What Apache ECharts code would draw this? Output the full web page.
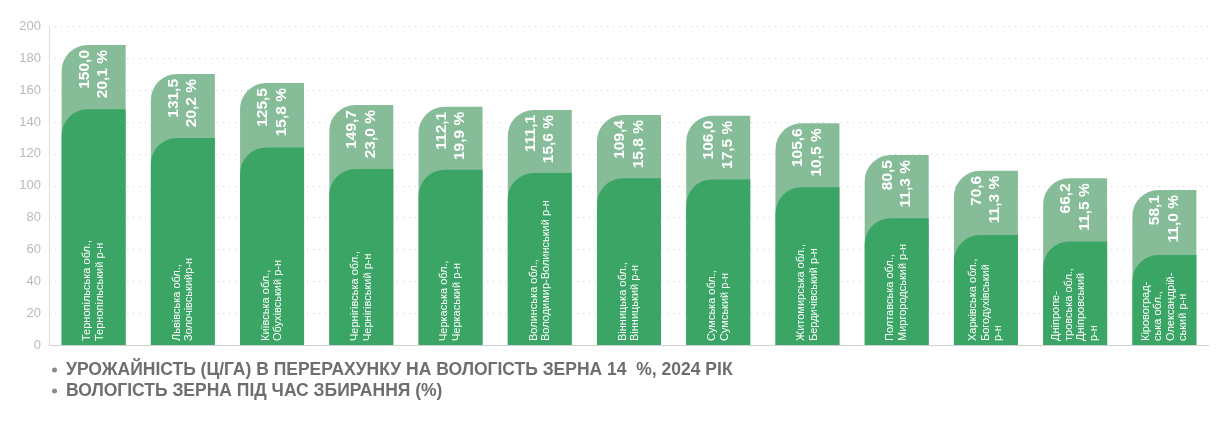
<!DOCTYPE html>
<html>
<head>
<meta charset="utf-8">
<script src="https://cdn.jsdelivr.net/npm/echarts@6/dist/echarts.min.js"></script>
<style>
    html, body { margin: 0; padding: 0; background: #fff; }
    #chart { width: 1216px; height: 422px; }
</style>
</head>
<body>
<div id="chart"></div>
<script>
// райони
var categories = [
    'Тернопільська обл.,\nТернопільський р-н',
    'Львівська обл.,\nЗолочівськийр-н',
    'Київська обл.,\nОбухівський р-н',
    'Чернігівська обл.,\nЧернігівський р-н',
    'Черкаська обл.,\nЧеркаський р-н',
    'Волинська обл.,\nВолодимир-Волинський р-н',
    'Вінницька обл.,\nВінницький р-н',
    'Сумська обл.,\nСумський р-н',
    'Житомирська обл.,\nБердичівський р-н',
    'Полтавська обл.,\nМиргородський р-н',
    'Харківська обл.,\nБогодухівський\nр-н',
    'Дніпропе-\nтровська обл.,\nДніпровський\nр-н',
    'Кіровоград-\nська обл.,\nОлександрій-\nський р-н'
];
// підписи значень
var yieldLabels = ['150,0', '131,5', '125,5', '149,7', '112,1', '111,1', '109,4', '106,0', '105,6', '80,5', '70,6', '66,2', '58,1'];
var moistureLabels = ['20,1', '20,2', '15,8', '23,0', '19,9', '15,6', '15,8', '17,5', '10,5', '11,3', '11,3', '11,5', '11,0'];
// висота темних стовпців (як на малюнку)
var yieldBars = [148, 130, 124, 110.5, 110, 108, 104.7, 104, 99, 79.6, 69, 65, 56.5];
// верх світлих стовпців
var capTops = [188.4, 170.2, 164.5, 150.7, 149.6, 147.6, 144.4, 144, 139.2, 119.3, 109.4, 104.7, 97.3];
var yTicks = [0, 20, 40, 60, 80, 100, 120, 140, 160, 180, 200];

var nameYield = 'УРОЖАЙНІСТЬ (Ц/ГА) В ПЕРЕРАХУНКУ НА ВОЛОГІСТЬ ЗЕРНА 14  %, 2024 РІК';
var nameMoisture = 'ВОЛОГІСТЬ ЗЕРНА ПІД ЧАС ЗБИРАННЯ (%)';

var chart = echarts.init(document.getElementById('chart'));

var option = {
    animation: false,
    textStyle: { fontFamily: '"Liberation Sans", Arial, sans-serif' },
    grid: { left: 49, right: 7, top: 26.5, bottom: 77 },
    legend: {
        orient: 'vertical',
        left: 47,
        top: 356,
        itemGap: 3,
        icon: 'circle',
        itemWidth: 5,
        itemHeight: 5,
        selectedMode: false,
        textStyle: { color: '#6d6e70', fontSize: 17.5, fontWeight: 'bold', lineHeight: 18, padding: [0, 0, 0, 4] },
        data: [
            { name: nameYield, itemStyle: { color: '#8a8a8a' } },
            { name: nameMoisture, itemStyle: { color: '#8a8a8a' } }
        ]
    },
    xAxis: {
        type: 'category',
        data: categories,
        axisLine: { lineStyle: { color: '#d0d0d0', width: 1 } },
        axisTick: { show: false },
        axisLabel: { show: false }
    },
    yAxis: {
        type: 'value',
        min: yTicks[0],
        max: yTicks[yTicks.length - 1],
        interval: 20,
        axisLine: { show: true, lineStyle: { color: '#d6d6d6', type: 'dotted' } },
        axisTick: { show: false },
        axisLabel: { color: '#b9b9b9', fontSize: 13, margin: 8 },
        splitLine: { lineStyle: { color: '#cfcfcf', type: [1, 5] } }
    },
    series: [
        {
            name: nameMoisture,
            type: 'bar',
            data: capTops,
            barWidth: 64,
            itemStyle: { color: '#86bd98', borderRadius: [26, 0, 0, 0] },
            label: {
                show: true,
                position: 'insideTop',
                distance: 7,
                rotate: 90,
                align: 'right',
                verticalAlign: 'middle',
                color: '#fff',
                fontSize: 15.5,
                fontWeight: 'bold',
                lineHeight: 18.5,
                offset: [2, 0],
                formatter: function (p) {
                    return yieldLabels[p.dataIndex] + '\n' + moistureLabels[p.dataIndex] + ' %';
                }
            },
            z: 2
        },
        {
            name: nameYield,
            type: 'bar',
            data: yieldBars,
            barWidth: 64,
            barGap: '-100%',
            itemStyle: { color: '#3aa565', borderRadius: [26, 0, 0, 0] },
            label: {
                show: true,
                position: 'insideBottom',
                distance: 4,
                rotate: 90,
                align: 'left',
                verticalAlign: 'middle',
                color: '#fff',
                fontSize: 11,
                lineHeight: 12.5,
                formatter: function (p) {
                    return categories[p.dataIndex];
                }
            },
            z: 3
        }
    ]
};

chart.setOption(option);
</script>
</body>
</html>
